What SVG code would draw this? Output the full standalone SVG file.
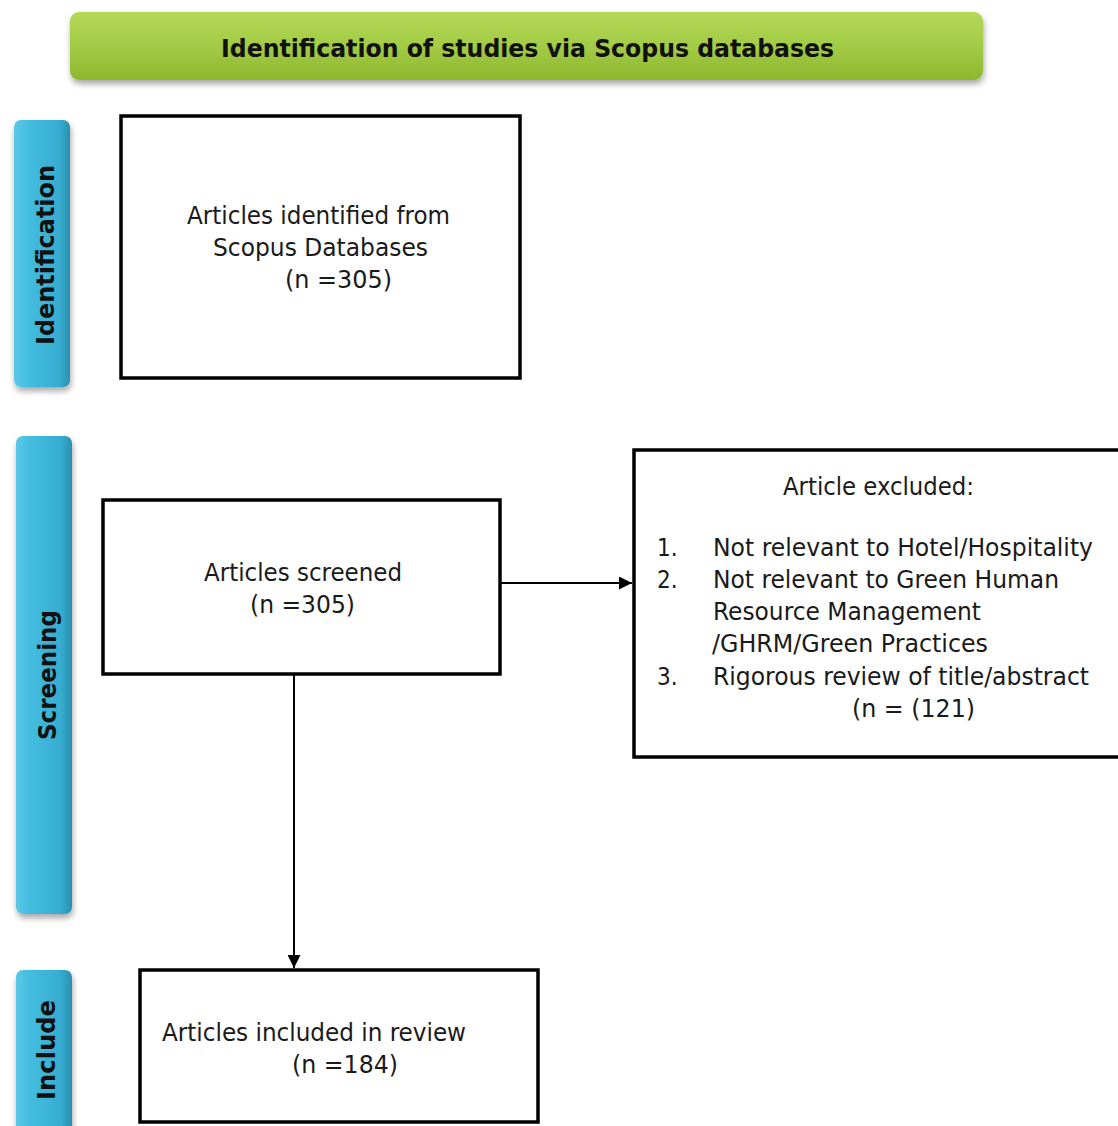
<svg xmlns="http://www.w3.org/2000/svg" width="1118" height="1126" viewBox="0 0 1118 1126">
<defs>
<linearGradient id="gGreen" x1="0" y1="0" x2="0" y2="1">
<stop offset="0" stop-color="#b4d857"/>
<stop offset="0.5" stop-color="#a3cb45"/>
<stop offset="1" stop-color="#8db62e"/>
</linearGradient>
<linearGradient id="gBlue" x1="0" y1="0" x2="1" y2="0">
<stop offset="0" stop-color="#5cc8e6"/>
<stop offset="0.25" stop-color="#44bde0"/>
<stop offset="0.8" stop-color="#36acd0"/>
<stop offset="1" stop-color="#2a8fb0"/>
</linearGradient>
<filter id="sh" x="-10%" y="-10%" width="120%" height="130%">
<feGaussianBlur in="SourceAlpha" stdDeviation="3"/>
<feOffset dx="1" dy="4" result="b"/>
<feComponentTransfer><feFuncA type="linear" slope="0.35"/></feComponentTransfer>
<feMerge><feMergeNode/><feMergeNode in="SourceGraphic"/></feMerge>
</filter>
<marker id="arr" viewBox="0 0 10 10" refX="10" refY="5" markerWidth="6.5" markerHeight="6.5" orient="auto" markerUnits="strokeWidth">
<path d="M0,0 L10,5 L0,10 z" fill="#000"/>
</marker>
</defs>
<style>
.box{fill:#fff;stroke:#000;stroke-width:3.5}
.t{font-family:"DejaVu Sans Condensed","DejaVu Sans",sans-serif;font-size:24px;fill:#1a1a1a}
.b{font-family:"DejaVu Sans Condensed","DejaVu Sans",sans-serif;font-size:25px;font-weight:bold;fill:#111}
.side{fill:url(#gBlue);filter:url(#sh)}
.con{stroke:#000;stroke-width:2;fill:none}
</style>
<rect width="1118" height="1126" fill="#fff"/>

<g id="header">
<rect x="70" y="12" width="913" height="68" rx="9" fill="url(#gGreen)" filter="url(#sh)"/>
<text class="b" x="221" y="57" textLength="613" lengthAdjust="spacingAndGlyphs">Identification of studies via Scopus databases</text>
</g>

<g id="stage-identification">
<rect class="side" x="14" y="120" width="56" height="267" rx="7"/>
<text class="b" transform="translate(54,255) rotate(-90)" text-anchor="middle" textLength="180" lengthAdjust="spacingAndGlyphs">Identification</text>
</g>
<g id="stage-screening">
<rect class="side" x="16" y="436" width="56" height="478" rx="7"/>
<text class="b" transform="translate(56,675) rotate(-90)" text-anchor="middle" textLength="130" lengthAdjust="spacingAndGlyphs">Screening</text>
</g>
<g id="stage-include">
<rect class="side" x="16" y="970" width="56" height="170" rx="7"/>
<text class="b" transform="translate(55,1050) rotate(-90)" text-anchor="middle" textLength="100" lengthAdjust="spacingAndGlyphs">Include</text>
</g>

<g id="identified">
<rect class="box" x="121" y="116" width="399" height="262"/>
<text class="t" x="187" y="224" textLength="263" lengthAdjust="spacingAndGlyphs">Articles identified from</text>
<text class="t" x="213" y="256" textLength="215" lengthAdjust="spacingAndGlyphs">Scopus Databases</text>
<text class="t" x="285" y="288" textLength="107" lengthAdjust="spacingAndGlyphs">(n =305)</text>
</g>

<g id="screened">
<rect class="box" x="103" y="500" width="397" height="174"/>
<text class="t" x="204" y="581" textLength="198" lengthAdjust="spacingAndGlyphs">Articles screened</text>
<text class="t" x="250" y="613" textLength="105" lengthAdjust="spacingAndGlyphs">(n =305)</text>
</g>

<g id="excluded">
<rect class="box" x="634" y="450" width="500" height="307"/>
<text class="t" x="783" y="495" textLength="191" lengthAdjust="spacingAndGlyphs">Article excluded:</text>
<text class="t" x="657" y="556">1.</text>
<text class="t" x="713" y="556" textLength="380" lengthAdjust="spacingAndGlyphs">Not relevant to Hotel/Hospitality</text>
<text class="t" x="657" y="588">2.</text>
<text class="t" x="713" y="588" textLength="346" lengthAdjust="spacingAndGlyphs">Not relevant to Green Human</text>
<text class="t" x="713" y="620" textLength="268" lengthAdjust="spacingAndGlyphs">Resource Management</text>
<text class="t" x="712" y="652" textLength="276" lengthAdjust="spacingAndGlyphs">/GHRM/Green Practices</text>
<text class="t" x="657" y="685">3.</text>
<text class="t" x="713" y="685" textLength="376" lengthAdjust="spacingAndGlyphs">Rigorous review of title/abstract</text>
<text class="t" x="852" y="717" textLength="123" lengthAdjust="spacingAndGlyphs">(n = (121)</text>
</g>

<g id="included">
<rect class="box" x="140" y="970" width="398" height="152"/>
<text class="t" x="162" y="1041" textLength="304" lengthAdjust="spacingAndGlyphs">Articles included in review</text>
<text class="t" x="292" y="1073" textLength="106" lengthAdjust="spacingAndGlyphs">(n =184)</text>
</g>

<g id="connectors">
<line class="con" x1="501" y1="583" x2="632" y2="583" marker-end="url(#arr)"/>
<line class="con" x1="294" y1="675" x2="294" y2="968" marker-end="url(#arr)"/>
</g>
</svg>
